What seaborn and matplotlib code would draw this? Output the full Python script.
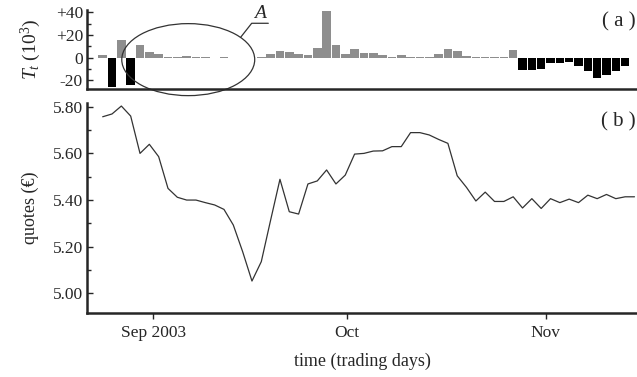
import numpy as np
import pandas as pd
import seaborn as sns
import matplotlib.pyplot as plt
from matplotlib.patches import Ellipse
from matplotlib.ticker import AutoMinorLocator

# trading-day index 0..57
days = list(range(58))

# T_t in thousands
volume = [2, -25.7, 15.2, -24, 10.9, 4.6, 2.9, 0.6, 0.6, 1.5,
          0.6, 0.6, 0, 0.6, 0, 0, 0, 0.6, 3.4, 5.7,
          4.6, 3.4, 2.3, 8.6, 40.9, 10.9, 2.9, 8.0, 4.3, 3.7,
          2.3, 0.6, 2.0, 1.0, 1.0, 1.0, 2.9, 8.0, 5.7, 1.7,
          1.0, 1.0, 1.0, 0.6, 6.6, -10.5, -10.5, -10, -4.9, -4.9,
          -4, -7.1, -11.4, -17.7, -14.9, -12, -7.7, -0.5]

# quotes in euro (panel b)
quotes = [5.757, 5.769, 5.803, 5.760, 5.600, 5.639, 5.586, 5.450, 5.412, 5.400,
          5.400, 5.389, 5.379, 5.360, 5.293, 5.179, 5.053, 5.136, 5.314, 5.489,
          5.350, 5.340, 5.469, 5.482, 5.529, 5.469, 5.507, 5.597, 5.600, 5.610,
          5.611, 5.629, 5.629, 5.689, 5.689, 5.679, 5.660, 5.643, 5.504, 5.454,
          5.396, 5.434, 5.394, 5.394, 5.414, 5.366, 5.406, 5.364, 5.406, 5.389,
          5.404, 5.389, 5.421, 5.406, 5.424, 5.406, 5.414, 5.414]

month_ticks = [5.4, 26.2, 47.5]
month_labels = ["Sep 2003", "Oct", "Nov"]
t_ticks = [-20, 0, 20, 40]
t_labels = ["-20", "0", "+20", "+40"]

sns.set_style("ticks")
plt.rcParams["font.family"] = ["Liberation Serif", "DejaVu Serif"]
plt.rcParams["mathtext.fontset"] = "custom"
plt.rcParams["mathtext.rm"] = "Liberation Serif"
plt.rcParams["mathtext.it"] = "Liberation Serif:italic"
plt.rcParams["font.size"] = 12.5

df = pd.DataFrame({"day": days, "T": volume, "q": quotes})
df["sign"] = np.where(df["T"] < 0, "neg", "pos")

fig = plt.figure(figsize=(6.37, 3.77), dpi=100)
ax1 = fig.add_axes([0.1366, 0.7626, 0.8634, 0.2109])
ax2 = fig.add_axes([0.1366, 0.1698, 0.8634, 0.557])

# panel (a): bars
sns.barplot(data=df, x="day", y="T", hue="sign", palette={"pos": "#8e8e8e", "neg": "black"},
            native_scale=True, dodge=False, width=0.92, legend=False, ax=ax1,
            linewidth=0)
ax1.set_xlim(-1.68, 57.27)
ax1.set_ylim(-28, 42)
ax1.set_yticks(t_ticks)
ax1.set_yticklabels(t_labels)
ax1.yaxis.set_minor_locator(AutoMinorLocator(2))
ax1.set_xticks([])
ax1.set_xlabel("")
ax1.set_ylabel(r"$T_t$ (10$^3$)", labelpad=9, fontsize=14)
ax1.tick_params(axis="y", which="major", direction="in", length=4, width=1, pad=3)
ax1.tick_params(axis="y", which="minor", direction="in", length=3, width=1)
for s in ["top", "right"]:
    ax1.spines[s].set_visible(False)
for s in ["left", "bottom"]:
    ax1.spines[s].set_linewidth(1.8)
ax1.text(0.998, 0.85, "( a )", transform=ax1.transAxes, ha="right", va="center", fontsize=15)

# ellipse A
ell = Ellipse((9.17, -1.7), 14.25, 63.4, fill=False, edgecolor="#333333", lw=0.9, clip_on=False)
ax1.add_patch(ell)
ax1.plot([14.79, 15.97, 17.75], [18.0, 30.3, 30.3], color="#333333", lw=0.9, clip_on=False)
ax1.text(16.9, 31.5, "A", style="italic", ha="center", va="bottom", fontsize=14, clip_on=False)

# panel (b): quotes
sns.lineplot(data=df, x="day", y="q", color="#333333", linewidth=0.9, ax=ax2)
ax2.set_xlim(-1.68, 57.27)
ax2.set_ylim(4.916, 5.816)
ax2.set_yticks([5.0, 5.2, 5.4, 5.6, 5.8])
ax2.set_yticklabels(["%.2f" % v for v in [5.0, 5.2, 5.4, 5.6, 5.8]])
ax2.yaxis.set_minor_locator(AutoMinorLocator(2))
ax2.set_xticks(month_ticks)
ax2.set_xticklabels(month_labels)
ax2.set_xlabel("time (trading days)", labelpad=8, fontsize=13)
ax2.set_ylabel("quotes (€)", labelpad=10, fontsize=13)
ax2.tick_params(axis="y", which="major", direction="in", length=4, width=1, pad=3)
ax2.tick_params(axis="y", which="minor", direction="in", length=3, width=1)
ax2.tick_params(axis="x", direction="out", length=4, width=1, pad=5)
for s in ["top", "right"]:
    ax2.spines[s].set_visible(False)
for s in ["left", "bottom"]:
    ax2.spines[s].set_linewidth(1.8)
ax2.text(0.998, 0.91, "( b )", transform=ax2.transAxes, ha="right", va="center", fontsize=15)

fig.savefig("out.png", dpi=100)
